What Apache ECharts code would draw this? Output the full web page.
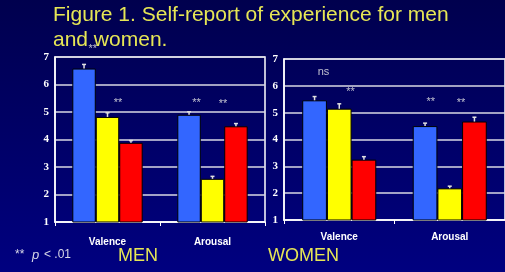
<!DOCTYPE html>
<html>
<head>
    <meta charset="utf-8">
    <title>Self-report of experience</title>
    <script src="https://cdn.jsdelivr.net/npm/echarts@6/dist/echarts.min.js"></script>
    <style>
        html, body { margin: 0; padding: 0; background: #000060; }
    </style>
</head>
<body>
<div id="main" style="width: 505px;height:272px;"></div>
<script type="text/javascript">
    // categories and values
    var categories = ['Valence', 'Arousal'];

    // men: bar means and top of error bar
    var menBlue = [6.58, 4.9];
    var menYellow = [4.82, 2.57];
    var menRed = [3.88, 4.48];
    var menBlueErr = [6.73, 5.01];
    var menYellowErr = [4.97, 2.66];
    var menRedErr = [3.96, 4.58];

    // women
    var womenBlue = [5.46, 4.5];
    var womenYellow = [5.15, 2.18];
    var womenRed = [3.25, 4.67];
    var womenBlueErr = [5.6, 4.61];
    var womenYellowErr = [5.33, 2.26];
    var womenRedErr = [3.36, 4.83];

    // significance marks: [category, offset in bar widths, value, text]
    var menMarks = [
        [0, -0.63, 7.39, '**'],
        [0, 0.45, 5.44, '**'],
        [1, -0.68, 5.44, '**'],
        [1, 0.45, 5.4, '**']
    ];
    var womenMarks = [
        [0, -0.64, 6.5, 'ns'],
        [0, 0.46, 5.88, '**'],
        [1, -0.77, 5.51, '**'],
        [1, 0.46, 5.48, '**']
    ];

    var colors = ['#3366ff', '#ffff00', '#ff0000'];
    var gapRatio = 0.33;

    var myChart = echarts.init(document.getElementById('main'));

    function barSeries(data, color, idx) {
        return {
            type: 'bar',
            xAxisIndex: idx,
            yAxisIndex: idx,
            data: data,
            barGap: '0%',
            barCategoryGap: '33%',
            itemStyle: {color: color, borderColor: '#000', borderWidth: 1},
            z: 2
        };
    }

    // error bars drawn with the same category scale as the bars
    function errSeries(tops, bars, pos, idx) {
        var data = tops.map(function (t, i) { return [i, t, bars[i]]; });
        return {
            type: 'custom',
            xAxisIndex: idx,
            yAxisIndex: idx,
            data: data,
            z: 3,
            renderItem: function (params, api) {
                var catW = api.size([1, 0])[0];
                var bw = catW * (1 - gapRatio) / 3;
                var top = api.coord([api.value(0), api.value(1)]);
                var base = api.coord([api.value(0), api.value(2)]);
                var x = top[0] + pos * bw;
                return {
                    type: 'group',
                    children: [
                        {type: 'line', shape: {x1: x, y1: base[1], x2: x, y2: top[1]},
                            style: {stroke: '#e0e0e0', lineWidth: 1.5}},
                        {type: 'line', shape: {x1: x - 2, y1: top[1], x2: x + 2, y2: top[1]},
                            style: {stroke: '#e0e0e0', lineWidth: 1.5}}
                    ]
                };
            }
        };
    }

    function markSeries(marks, idx) {
        return {
            type: 'custom',
            xAxisIndex: idx,
            yAxisIndex: idx,
            data: marks,
            clip: false,
            z: 4,
            renderItem: function (params, api) {
                var catW = api.size([1, 0])[0];
                var bw = catW * (1 - gapRatio) / 3;
                var p = api.coord([api.value(0), api.value(2)]);
                var txt = marks[params.dataIndex][3];
                return {
                    type: 'text',
                    x: p[0] + api.value(1) * bw,
                    y: p[1] + (txt === '**' ? 3 : 0),
                    style: {
                        text: txt,
                        fill: '#c0c0d0',
                        fontSize: 11,
                        fontFamily: 'Arial, Liberation Sans, sans-serif',
                        align: 'center',
                        verticalAlign: 'middle'
                    }
                };
            }
        };
    }

    function xAxisCfg(idx, margin) {
        return {
            type: 'category',
            gridIndex: idx,
            data: categories,
            axisLine: {lineStyle: {color: '#fff', width: 1.5}},
            axisTick: {show: true, length: 4, lineStyle: {color: '#fff'}},
            axisLabel: {
                color: '#fff',
                fontSize: 10,
                fontWeight: 'bold',
                fontFamily: 'Liberation Sans Narrow, Arial Narrow, sans-serif',
                margin: margin
            }
        };
    }

    function yAxisCfg(idx) {
        return {
            type: 'value',
            gridIndex: idx,
            min: 1,
            max: 7,
            interval: 1,
            axisLine: {show: true, lineStyle: {color: '#fff', width: 1.5}},
            axisTick: {show: false},
            axisLabel: {
                color: '#fff',
                fontSize: 11,
                fontWeight: 'bold',
                fontFamily: 'Liberation Serif, Times New Roman, serif',
                margin: 6
            },
            splitLine: {lineStyle: {color: '#d8d8e4', width: 1.5}}
        };
    }

    option = {
        backgroundColor: {
            type: 'linear', x: 0, y: 0, x2: 0, y2: 1,
            colorStops: [{offset: 0, color: '#00004e'}, {offset: 1, color: '#000080'}]
        },
        animation: false,
        title: {
            text: 'Figure 1. Self-report of experience for men\nand women.',
            left: 53,
            top: 3,
            padding: 0,
            textStyle: {
                color: '#e6e655',
                fontSize: 21,
                fontWeight: 'normal',
                fontFamily: 'Liberation Sans, Arial, sans-serif',
                lineHeight: 25
            }
        },
        grid: [
            {left: 55, top: 57, width: 210, height: 165, show: true,
                borderColor: '#fff', borderWidth: 1.5, backgroundColor: 'transparent'},
            {left: 284, top: 59, width: 231, height: 161, show: true,
                borderColor: '#fff', borderWidth: 1.5, backgroundColor: 'transparent'}
        ],
        xAxis: [xAxisCfg(0, 15), xAxisCfg(1, 12)],
        yAxis: [yAxisCfg(0), yAxisCfg(1)],
        graphic: [
            {type: 'text', left: 15, top: 249,
                style: {text: '** ', fill: '#d8d8e8', fontSize: 12, fontFamily: 'Liberation Sans, Arial, sans-serif'}},
            {type: 'text', left: 32, top: 249,
                style: {text: 'p', fill: '#d8d8e8', fontSize: 13, fontStyle: 'italic', fontFamily: 'Liberation Sans, Arial, sans-serif'}},
            {type: 'text', left: 44, top: 249,
                style: {text: '< .01', fill: '#d8d8e8', fontSize: 12, fontFamily: 'Liberation Sans, Arial, sans-serif'}},
            {type: 'text', left: 118, top: 247,
                style: {text: 'MEN', fill: '#e6e655', fontSize: 18, fontFamily: 'Liberation Sans, Arial, sans-serif'}},
            {type: 'text', left: 268, top: 247,
                style: {text: 'WOMEN', fill: '#e6e655', fontSize: 18, fontFamily: 'Liberation Sans, Arial, sans-serif'}}
        ],
        series: [
            barSeries(menBlue, colors[0], 0),
            barSeries(menYellow, colors[1], 0),
            barSeries(menRed, colors[2], 0),
            barSeries(womenBlue, colors[0], 1),
            barSeries(womenYellow, colors[1], 1),
            barSeries(womenRed, colors[2], 1),
            errSeries(menBlueErr, menBlue, -1, 0),
            errSeries(menYellowErr, menYellow, 0, 0),
            errSeries(menRedErr, menRed, 1, 0),
            errSeries(womenBlueErr, womenBlue, -1, 1),
            errSeries(womenYellowErr, womenYellow, 0, 1),
            errSeries(womenRedErr, womenRed, 1, 1),
            markSeries(menMarks, 0),
            markSeries(womenMarks, 1)
        ]
    };

    myChart.setOption(option);
</script>
</body>
</html>
